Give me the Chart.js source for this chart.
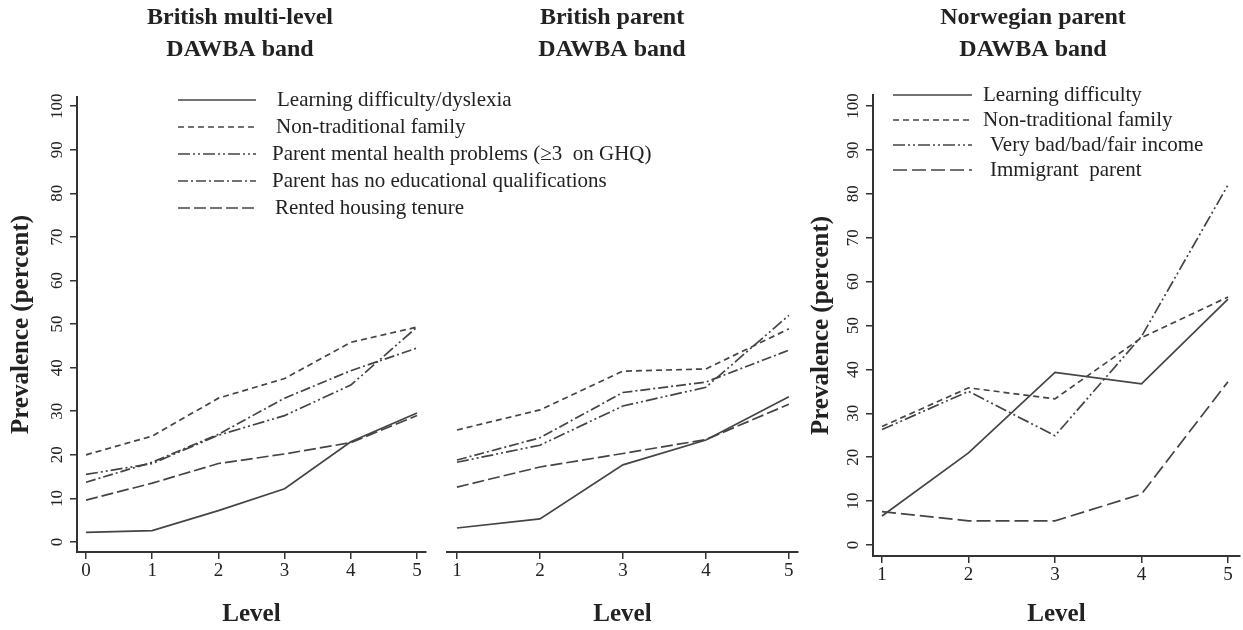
<!DOCTYPE html>
<html>
<head>
<meta charset="utf-8">
<title>DAWBA band prevalence</title>
<script src="https://cdn.jsdelivr.net/npm/chart.js@4.4.1/dist/chart.umd.min.js"></script>
<style>
  html, body { margin: 0; padding: 0; background: #fff; }
  #wrap { position: relative; width: 1243px; height: 630px; overflow: hidden; }
  #wrap canvas { position: absolute; top: 0; }
</style>
</head>
<body>
<div id="wrap">
  <canvas id="chart-multi" width="660" height="630" style="left:0px"></canvas>
  <canvas id="chart-parent" width="370" height="630" style="left:440px"></canvas>
  <canvas id="chart-norway" width="443" height="630" style="left:800px"></canvas>
</div>
<script>
(function () {
    "use strict";

    // levels (x) and y ticks
    const levelsMulti = [0, 1, 2, 3, 4, 5];
    const levelsParent = [1, 2, 3, 4, 5];
    const prevalenceTicks = [0, 10, 20, 30, 40, 50, 60, 70, 80, 90, 100];

    // labels
    const britishLabels = [
        "Learning difficulty/dyslexia",
        "Non-traditional family",
        "Parent mental health problems (\u22653  on GHQ)",
        "Parent has no educational qualifications",
        "Rented housing tenure",
    ];
    const norwayLabels = [
        "Learning difficulty",
        "Non-traditional family",
        "Very bad/bad/fair income",
        "Immigrant  parent",
    ];

    // British multi-level DAWBA band
    const multiLearning = [2.2, 2.6, 7.2, 12.2, 23.0, 29.6];
    const multiNonTrad = [20.0, 24.3, 33.0, 37.5, 45.8, 49.3];
    const multiMental = [15.5, 18.0, 24.5, 29.0, 36.0, 49.3];
    const multiNoEdu = [13.7, 18.3, 24.7, 33.0, 39.3, 44.5];
    const multiRented = [9.6, 13.5, 18.0, 20.2, 22.8, 29.0];

    // British parent DAWBA band
    const parentLearning = [3.2, 5.3, 17.7, 23.4, 33.3];
    const parentNonTrad = [25.7, 30.3, 39.2, 39.7, 48.9];
    const parentMental = [18.3, 22.2, 31.2, 35.5, 52.0];
    const parentNoEdu = [18.8, 23.9, 34.3, 36.7, 44.0];
    const parentRented = [12.6, 17.2, 20.3, 23.5, 31.6];

    // Norwegian parent DAWBA band
    const norwayLearning = [6.6, 21.0, 39.3, 36.7, 56.0];
    const norwayNonTrad = [27.0, 35.8, 33.3, 47.2, 56.5];
    const norwayIncome = [26.3, 35.0, 24.9, 47.5, 82.0];
    const norwayImmigrant = [7.6, 5.5, 5.5, 11.6, 37.2];

    const FONT = "'Liberation Serif', 'Times New Roman', serif";
    const textColor = "#222";
    const axisColor = "#333";
    const lineColor = "#444";

    // dash styles
    const SOLID = [];
    const SHORT = [6, 4];
    const DASH_DOT_DOT = [12, 3, 2, 3, 2, 3];
    const DASH_DOT = [10, 3, 2, 3];
    const LONG = [12, 4];
    const LONGER = [14, 5];

    Chart.defaults.font.family = FONT;
    Chart.defaults.color = textColor;

    // titles + legend drawn straight on the canvas
    const panelText = {
        id: "panelText",
        afterDraw(chart, args, opts) {
            const ctx = chart.ctx;
            ctx.save();
            ctx.fillStyle = textColor;
            ctx.textAlign = "center";
            ctx.textBaseline = "middle";
            ctx.font = "bold 24px " + FONT;
            opts.title.forEach((line, i) => ctx.fillText(line, opts.titleX, opts.titleY[i]));

            if (opts.legend) {
                const lg = opts.legend;
                ctx.font = "21px " + FONT;
                ctx.textAlign = "left";
                chart.data.datasets.forEach((ds, i) => {
                    const y = lg.y + i * lg.gap;
                    ctx.strokeStyle = ds.borderColor;
                    ctx.lineWidth = 1.6;
                    ctx.setLineDash(ds.borderDash);
                    ctx.beginPath();
                    ctx.moveTo(lg.lineX[0], y);
                    ctx.lineTo(lg.lineX[1], y);
                    ctx.stroke();
                    ctx.fillText(ds.label, lg.textX[i], y);
                });
            }
            ctx.restore();
        },
    };

    function createPanel(canvasId, cfg) {
        const el = document.getElementById(canvasId);
        if (!el) return null;

        const datasets = cfg.series.map((s, i) => ({
            label: cfg.labels[i],
            data: cfg.levels.map((lv, j) => ({ x: lv, y: s.values[j] })),
            borderColor: lineColor,
            borderWidth: 1.7,
            borderDash: s.dash,
            pointRadius: 0,
            tension: 0,
            fill: false,
        }));

        return new Chart(el.getContext("2d"), {
            type: "line",
            data: { datasets },
            options: {
                responsive: false,
                animation: false,
                layout: { padding: cfg.padding },
                plugins: {
                    legend: { display: false },
                    tooltip: { enabled: false },
                    panelText: cfg.text,
                },
                scales: {
                    x: {
                        type: "linear",
                        min: cfg.xRange[0],
                        max: cfg.xRange[1],
                        afterBuildTicks: axis => { axis.ticks = cfg.levels.map(v => ({ value: v })); },
                        afterFit: axis => { axis.height = cfg.xAxisHeight; },
                        grid: { display: true, drawOnChartArea: false, drawTicks: true, tickLength: 7, color: axisColor, lineWidth: 1.5 },
                        border: { display: true, color: axisColor, width: 2 },
                        ticks: { font: { size: 19 }, color: textColor, padding: 1, maxRotation: 0, autoSkip: false },
                        title: { display: true, text: "Level", font: { size: 25, weight: "bold" }, color: textColor, padding: { top: 0, bottom: 0 } },
                    },
                    y: {
                        type: "linear",
                        display: cfg.showY,
                        min: cfg.yRange[0],
                        max: cfg.yRange[1],
                        afterBuildTicks: axis => { axis.ticks = prevalenceTicks.map(v => ({ value: v })); },
                        afterFit: axis => { axis.width = cfg.yAxisWidth; },
                        grid: { display: true, drawOnChartArea: false, drawTicks: true, tickLength: 7, color: axisColor, lineWidth: 1.5 },
                        border: { display: true, color: axisColor, width: 2 },
                        ticks: { font: { size: 17 }, color: textColor, padding: 0, minRotation: 90, maxRotation: 90, crossAlign: "center", autoSkip: false },
                        title: { display: true, text: "Prevalence (percent)", font: { size: 25, weight: "bold" }, color: textColor, padding: { top: 7, bottom: 0 } },
                    },
                },
            },
            plugins: [panelText],
        });
    }

    createPanel("chart-multi", {
        levels: levelsMulti,
        labels: britishLabels,
        series: [
            { values: multiLearning, dash: SOLID },
            { values: multiNonTrad, dash: SHORT },
            { values: multiMental, dash: DASH_DOT_DOT },
            { values: multiNoEdu, dash: DASH_DOT },
            { values: multiRented, dash: LONG },
        ],
        xRange: [-0.136, 5.136],
        yRange: [-2.3, 102.1],
        showY: true,
        yAxisWidth: 77,
        xAxisHeight: 78,
        padding: { left: 0, right: 234, top: 97, bottom: 0 },
        text: {
            title: ["British multi-level", "DAWBA band"],
            titleX: 240,
            titleY: [18, 50],
            legend: { lineX: [178, 256], textX: [277, 276, 272, 272, 275], y: 100, gap: 27 },
        },
    });

    createPanel("chart-parent", {
        levels: levelsParent,
        labels: britishLabels,
        series: [
            { values: parentLearning, dash: SOLID },
            { values: parentNonTrad, dash: SHORT },
            { values: parentMental, dash: DASH_DOT_DOT },
            { values: parentNoEdu, dash: DASH_DOT },
            { values: parentRented, dash: LONG },
        ],
        xRange: [0.88, 5.11],
        yRange: [-2.3, 102.1],
        showY: false,
        yAxisWidth: 0,
        xAxisHeight: 78,
        padding: { left: 7, right: 12, top: 97, bottom: 0 },
        text: {
            title: ["British parent", "DAWBA band"],
            titleX: 172,
            titleY: [18, 50],
            legend: null,
        },
    });

    createPanel("chart-norway", {
        levels: levelsParent,
        labels: norwayLabels,
        series: [
            { values: norwayLearning, dash: SOLID },
            { values: norwayNonTrad, dash: SHORT },
            { values: norwayIncome, dash: DASH_DOT_DOT },
            { values: norwayImmigrant, dash: LONGER },
        ],
        xRange: [0.896, 5.139],
        yRange: [-2.5, 102.5],
        showY: true,
        yAxisWidth: 73,
        xAxisHeight: 74,
        padding: { left: 0, right: 3, top: 95, bottom: 0 },
        text: {
            title: ["Norwegian parent", "DAWBA band"],
            titleX: 233,
            titleY: [18, 50],
            legend: { lineX: [93, 172], textX: [183, 183, 190, 190], y: 95, gap: 25 },
        },
    });
})();
</script>
</body>
</html>
